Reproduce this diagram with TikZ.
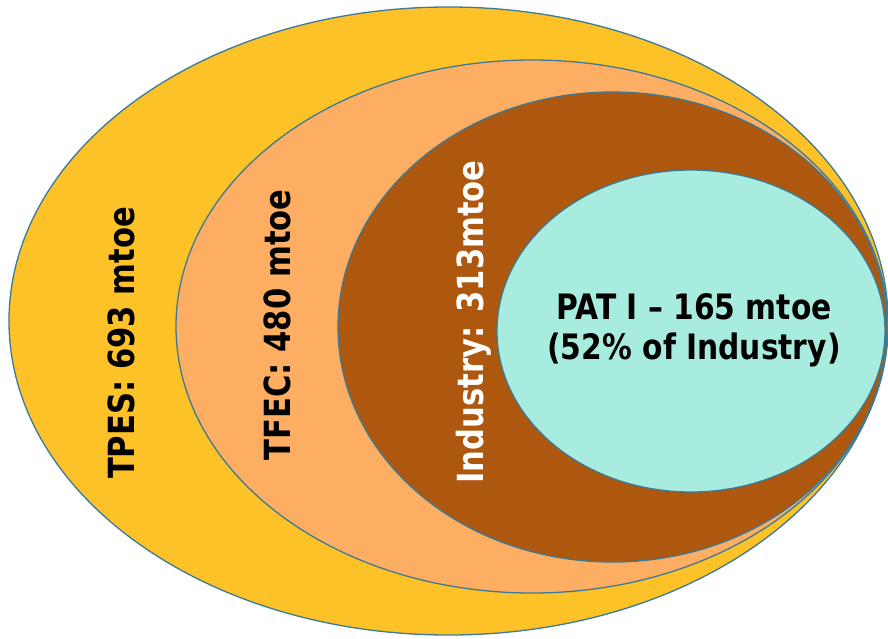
\documentclass[tikz,border=0pt]{standalone}
\usepackage{fontspec}
\setmainfont{DejaVu Sans}[FakeStretch=0.85]
\definecolor{cTPES}{HTML}{FDC228}
\definecolor{cTFEC}{HTML}{FDAE62}
\definecolor{cIND}{HTML}{AD570F}
\definecolor{cPAT}{HTML}{A8ECDF}
\definecolor{cEdge}{HTML}{3D7A96}
\tikzset{
  ring/.style={draw=cEdge, line width=1.3pt},
  vlabel/.style={rotate=90, anchor=base, inner sep=0pt, font=\fontsize{36}{40}\selectfont\bfseries},
}
\begin{document}
\begin{tikzpicture}[x=1pt,y=-1pt]
\useasboundingbox (0,0) rectangle (888,638);
\fill[white] (0,0) rectangle (888,638);
\path[ring, fill=cTPES] (448.5,321) ellipse [x radius=439.5pt, y radius=314pt];
\path[ring, fill=cTFEC] (532,326.5) ellipse [x radius=356pt, y radius=266.5pt];
\path[ring, fill=cIND] (612.5,327) ellipse [x radius=274.5pt, y radius=235pt];
\path[ring, fill=cPAT] (691,331) ellipse [x radius=194pt, y radius=161pt];
\node[vlabel] (tpes) at (134,343) {TPES: 693 mtoe};
\node[vlabel] (tfec) at (290,325) {TFEC: 480 mtoe};
\node[vlabel, text=white] (ind) at (483,322) {Industry: 313mtoe};
\node[align=center, inner sep=0pt, font=\fontsize{35}{40}\selectfont\bfseries] (pat) at (694,330) {PAT I – 165 mtoe\\(52\% of Industry)};
\end{tikzpicture}
\end{document}
